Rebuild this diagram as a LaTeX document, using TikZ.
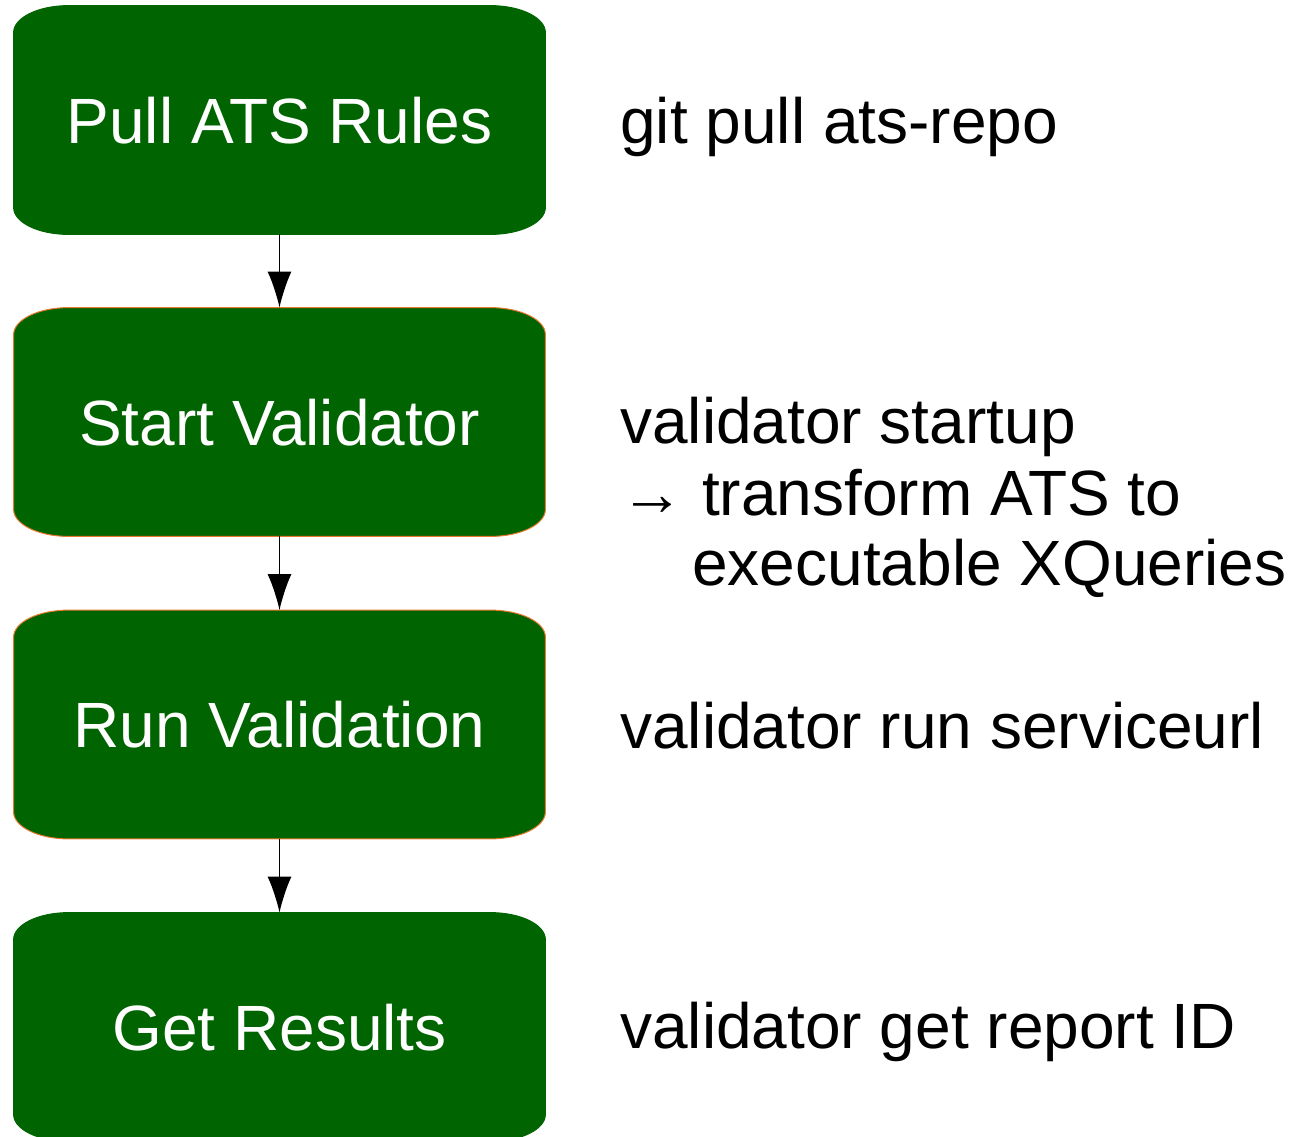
\documentclass[tikz,border=0pt]{standalone}
\usepackage{fontspec}
\setmainfont{Liberation Sans}
\usetikzlibrary{arrows.meta,backgrounds}
\definecolor{boxgreen}{HTML}{006400}
\definecolor{edgeorange}{HTML}{E8792C}
\begin{document}
\begin{tikzpicture}[x=0.5pt,y=-0.5pt,
  stepbox/.style={rectangle,inner sep=0pt,minimum width=265.5pt,minimum height=114pt,
    text=white,font=\fontsize{32pt}{38pt}\selectfont,text height=23pt,text depth=0pt},
  cmd/.style={anchor=base west,inner sep=0pt,font=\fontsize{32pt}{38pt}\selectfont},
  arr/.style={line width=0.75pt,-{Latex[length=18pt,width=12pt]}}]
\useasboundingbox (0,0) rectangle (1298,1137);
\node[stepbox] (a) at (279.5,120) {Pull ATS Rules};
\node[stepbox] (b) at (279.5,422) {Start Validator};
\node[stepbox] (c) at (279.5,724.5) {Run Validation};
\node[stepbox] (d) at (279.5,1027) {Get Results};
\begin{scope}[on background layer]
\foreach \n/\edge in {a/boxgreen,b/edgeorange,c/edgeorange,d/boxgreen}{
  \filldraw[fill=boxgreen,draw=\edge,line width=0.5pt]
    ([xshift=27.5pt]\n.north west) -- ([xshift=-27.5pt]\n.north east)
    arc[start angle=90,end angle=0,x radius=27.5pt,y radius=13.5pt]
    -- ([yshift=13.5pt]\n.south east)
    arc[start angle=0,end angle=-90,x radius=27.5pt,y radius=13.5pt]
    -- ([xshift=27.5pt]\n.south west)
    arc[start angle=270,end angle=180,x radius=27.5pt,y radius=13.5pt]
    -- ([yshift=-13.5pt]\n.north west)
    arc[start angle=180,end angle=90,x radius=27.5pt,y radius=13.5pt] -- cycle;
}
\end{scope}
\draw[arr] (a.south) -- (b.north);
\draw[arr] (b.south) -- (c.north);
\draw[arr] (c.south) -- (d.north);
\node[cmd] (t1) at (620,143) {git pull ats-repo};
\node[cmd] (t2a) at (620,443) {validator startup};
\node[cmd] (t2b) at (620,515) {→ transform ATS to};
\node[cmd] (t2c) at (692,585) {executable XQueries};
\node[cmd] (t3) at (620,748) {validator run serviceurl};
\node[cmd] (t4) at (620,1048) {validator get report ID};
\end{tikzpicture}
\end{document}
